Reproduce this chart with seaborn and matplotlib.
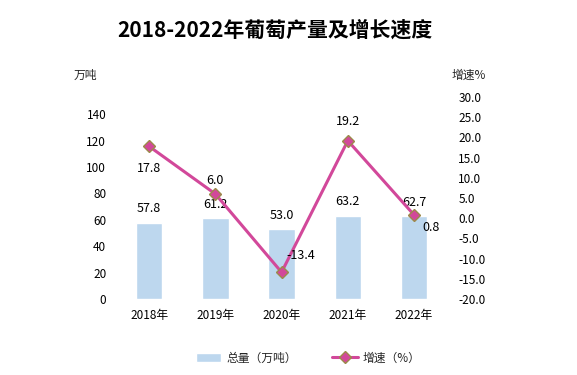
import matplotlib
matplotlib.use("Agg")
import matplotlib.pyplot as plt
import seaborn as sns
import pandas as pd
from matplotlib.ticker import FuncFormatter, MultipleLocator

years = ["2018年", "2019年", "2020年", "2021年", "2022年"]
output = [57.8, 61.2, 53.0, 63.2, 62.7]      # 总量（万吨）
growth = [17.8, 6.0, -13.4, 19.2, 0.8]       # 增速（%）

# label offsets for the growth values (points)
growth_offsets = [(0, -16), (0, 10), (14, 12), (0, 14), (12, -9)]

df = pd.DataFrame({"year": years, "output": output, "growth": growth})

sns.set_theme(style="white")
plt.rcParams["font.family"] = ["Noto Sans CJK SC", "DejaVu Sans"]

bar_color = "#BDD7EE"
line_color = "#D2489A"

fig = plt.figure(figsize=(5.77, 3.75), dpi=100)
ax = fig.add_axes([0.201, 0.203, 0.574, 0.538])

sns.barplot(data=df, x="year", y="output", color=bar_color, width=0.4,
            saturation=1, ax=ax, label="总量（万吨）")
ax.set_ylim(0, 153)
ax.set_xlim(-0.5, 4.5)
ax.set_yticks(range(0, 141, 20))
ax.set_xlabel("")
ax.set_ylabel("")
for i, v in enumerate(output):
    ax.annotate(f"{v:.1f}", (i, v), xytext=(0, 10), textcoords="offset points",
                ha="center", va="center", fontsize=9, color="black")

ax2 = ax.twinx()
sns.lineplot(data=df, x="year", y="growth", ax=ax2, color=line_color,
             linewidth=2.2, marker="D", markersize=6.5,
             markerfacecolor=line_color, markeredgecolor="#9C8A4A",
             markeredgewidth=1.0, sort=False, label="增速（%）")
ax2.set_ylim(-20, 30)
ax2.yaxis.set_major_locator(MultipleLocator(5))
ax2.yaxis.set_major_formatter(FuncFormatter(lambda v, p: f"{v:.1f}"))
ax2.set_ylabel("")
ax2.set_xlim(-0.5, 4.5)
for i, v in enumerate(growth):
    dx, dy = growth_offsets[i]
    ax2.annotate(f"{v:.1f}", (i, v), xytext=(dx, dy), textcoords="offset points",
                 ha="center", va="center", fontsize=9, color="black")

for a in (ax, ax2):
    for s in a.spines.values():
        s.set_visible(False)
    a.tick_params(length=0, labelsize=8.5, colors="black")
ax.tick_params(axis="y", pad=7)
ax.tick_params(axis="x", pad=7)
ax2.tick_params(axis="y", pad=8)

if ax.get_legend():
    ax.get_legend().remove()
h1, l1 = ax.get_legend_handles_labels()
h2, l2 = ax2.get_legend_handles_labels()
ax2.get_legend().remove()
fig.legend(h1 + h2, l1 + l2, loc="center", bbox_to_anchor=(0.534, 0.045),
           ncol=2, frameon=False, fontsize=8.5, handlelength=2.2,
           columnspacing=3.0, handletextpad=0.4)

fig.text(0.477, 0.92, "2018-2022年葡萄产量及增长速度", ha="center", va="center",
         fontsize=15, fontweight="bold", color="black")
fig.text(0.148, 0.80, "万吨", ha="center", va="center", fontsize=8.5)
fig.text(0.812, 0.80, "增速%", ha="center", va="center", fontsize=8.5)

fig.savefig("out.png", dpi=100)
